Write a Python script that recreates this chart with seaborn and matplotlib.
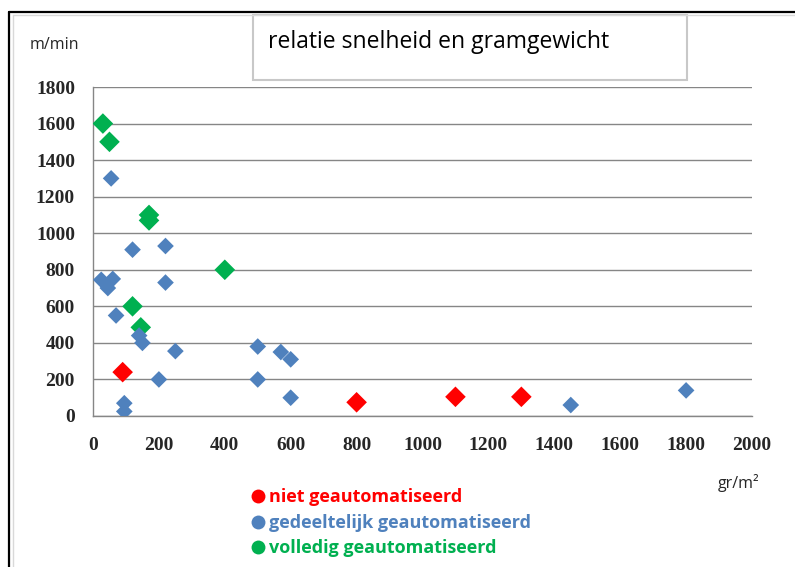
import numpy as np
import pandas as pd
import matplotlib
matplotlib.use("Agg")
import matplotlib.pyplot as plt
import seaborn as sns
from matplotlib.lines import Line2D
from matplotlib.patches import Rectangle

# data (gr/m2 vs m/min)
niet_x = [90, 800, 1100, 1300]
niet_y = [240, 75, 105, 105]

gedeeltelijk_x = [55, 120, 220, 25, 60, 45, 220, 70, 140, 150, 250, 200, 95, 95,
                  500, 570, 600, 500, 600, 1450, 1800]
gedeeltelijk_y = [1300, 910, 930, 745, 750, 700, 730, 550, 440, 400, 355, 200, 70, 25,
                  380, 350, 310, 200, 100, 60, 140]

volledig_x = [30, 50, 170, 170, 400, 120, 145]
volledig_y = [1600, 1500, 1100, 1070, 800, 600, 485]

groups = ["niet geautomatiseerd", "gedeeltelijk geautomatiseerd", "volledig geautomatiseerd"]
colors = {"niet geautomatiseerd": "#FF0000",
          "gedeeltelijk geautomatiseerd": "#4F81BD",
          "volledig geautomatiseerd": "#00B050"}
sizes = {"niet geautomatiseerd": 110,
         "gedeeltelijk geautomatiseerd": 72,
         "volledig geautomatiseerd": 110}

df = pd.concat([
    pd.DataFrame({"gram": volledig_x, "snelheid": volledig_y, "groep": groups[2]}),
    pd.DataFrame({"gram": gedeeltelijk_x, "snelheid": gedeeltelijk_y, "groep": groups[1]}),
    pd.DataFrame({"gram": niet_x, "snelheid": niet_y, "groep": groups[0]}),
], ignore_index=True)

sns.set_style("white")
grid_col = "#868686"

fig = plt.figure(figsize=(7.95, 5.67), dpi=100)
ax = fig.add_axes([93 / 795, 1 - 416 / 567, (752 - 93) / 795, (416 - 87) / 567])

sns.scatterplot(data=df, x="gram", y="snelheid", hue="groep", palette=colors,
                size="groep", sizes=sizes, marker="D", linewidth=0,
                legend=False, ax=ax, zorder=3)

ax.set_xlim(0, 2000)
ax.set_ylim(0, 1800)
ax.set_xticks(np.arange(0, 2001, 200))
ax.set_yticks(np.arange(0, 1801, 200))
ax.yaxis.grid(True, color=grid_col, linewidth=1)
ax.xaxis.grid(False)
ax.set_axisbelow(True)
ax.set_xlabel("")
ax.set_ylabel("")
for s in ["top", "right"]:
    ax.spines[s].set_visible(False)
for s in ["left", "bottom"]:
    ax.spines[s].set_color(grid_col)
    ax.spines[s].set_linewidth(1)
ax.tick_params(axis="both", direction="out", length=5, width=1, color=grid_col,
               labelsize=14, pad=8)
for lab in ax.get_xticklabels() + ax.get_yticklabels():
    lab.set_family("Liberation Serif")
    lab.set_fontweight("bold")
ax.tick_params(axis="x", pad=10)

# outer frame and title box
fig.add_artist(Line2D([9 / 795, 1], [1 - 12 / 567, 1 - 12 / 567], color="black", lw=1.6,
                      transform=fig.transFigure))
fig.add_artist(Line2D([9 / 795, 9 / 795], [0, 1 - 12 / 567], color="black", lw=1.6,
                      transform=fig.transFigure))
fig.add_artist(Line2D([13 / 795, 1], [1 - 15 / 567, 1 - 15 / 567], color="#D9D9D9", lw=1,
                      transform=fig.transFigure))
fig.add_artist(Line2D([13 / 795, 13 / 795], [0, 1 - 15 / 567], color="#D9D9D9", lw=1,
                      transform=fig.transFigure))
fig.add_artist(Rectangle((253 / 795, 1 - 80 / 567), (687 - 253) / 795, (80 - 15) / 567,
                         transform=fig.transFigure, fill=False, edgecolor="#C8C8C8", lw=1.5))

fig.text(268 / 795, 1 - 42 / 567, "relatie snelheid en gramgewicht", fontsize=16.5,
         family="Open Sans", va="center", ha="left", color="black")
fig.text(30 / 795, 1 - 45 / 567, "m/min", fontsize=11.5, family="Open Sans",
         va="center", ha="left")
fig.text(718 / 795, 1 - 483 / 567, "gr/m²", fontsize=11.5, family="Open Sans",
         va="center", ha="left")

handles = [Line2D([], [], marker="o", linestyle="", markersize=10,
                  markerfacecolor=colors[g], markeredgewidth=0, label=g) for g in groups]
leg = fig.legend(handles=handles, loc="upper left", bbox_to_anchor=(236 / 795, 1 - 472 / 567),
                 frameon=False, handlelength=0.6, handletextpad=0.35, labelspacing=0.42,
                 prop={"family": "Open Sans", "size": 13, "weight": "bold"})
for txt, g in zip(leg.get_texts(), groups):
    txt.set_color(colors[g])

fig.savefig("out.png", dpi=100)
